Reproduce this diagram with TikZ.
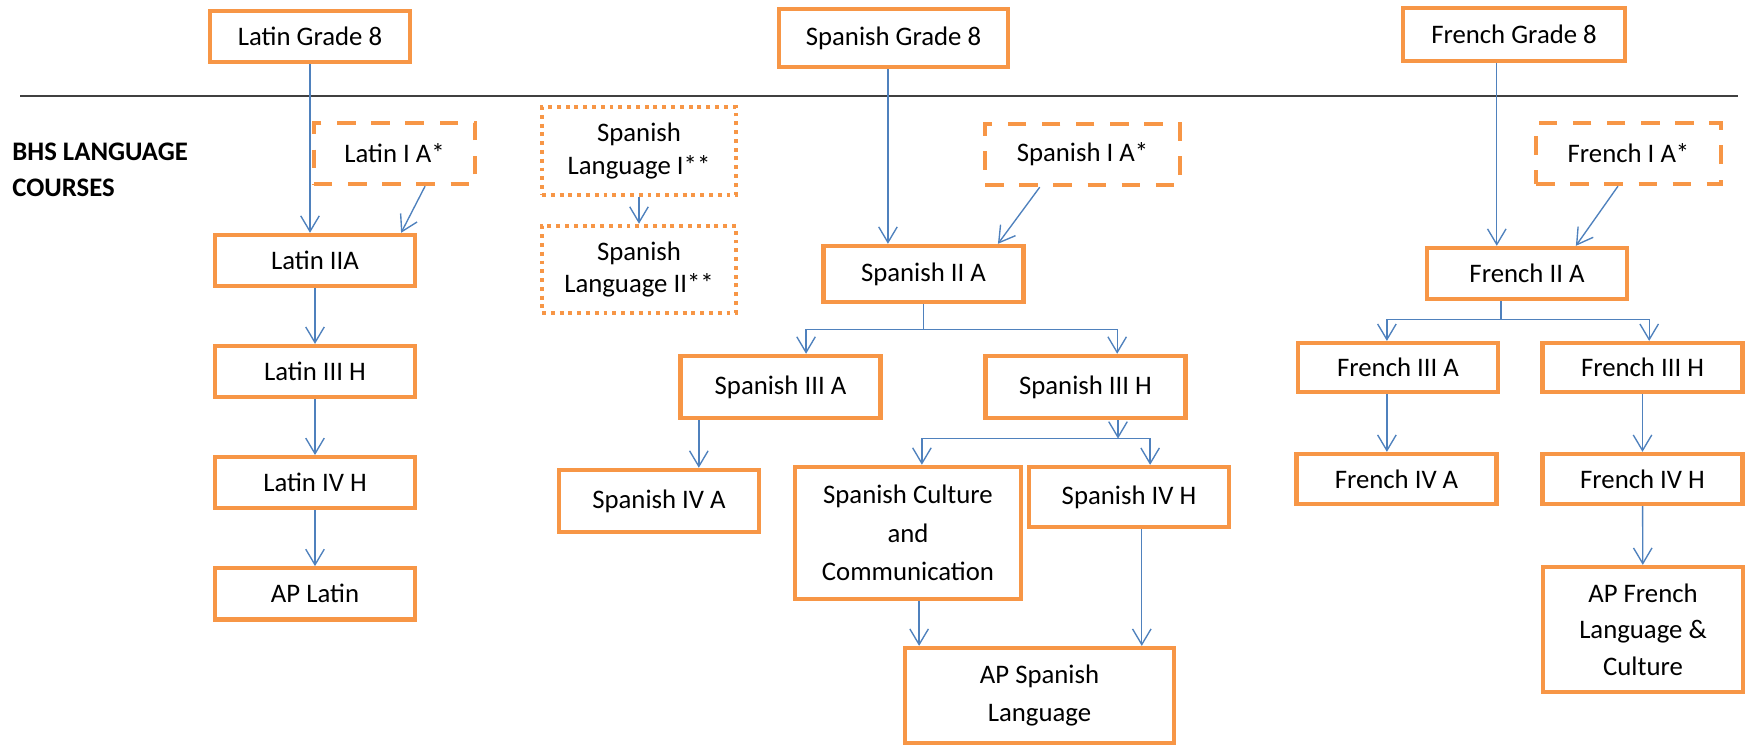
\documentclass[tikz,border=0pt]{standalone}
\usepackage{fontspec}
\setmainfont{Carlito}
\usepackage{tikz}
\usetikzlibrary{arrows.meta,positioning}
\definecolor{bhsorange}{RGB}{247,150,70}
\definecolor{bhsblue}{RGB}{79,129,189}
\definecolor{bhsgray}{RGB}{64,64,64}
\tikzstyle{course} = [rectangle, minimum width=3.6cm, minimum height=0.92cm, text centered, align=center, draw=bhsorange, fill=white, line width=2.2pt, inner sep=0pt]
\tikzstyle{optional} = [course, dash pattern=on 9.5pt off 8pt]
\tikzstyle{heritage} = [course, dash pattern=on 2pt off 2.5pt]
\tikzstyle{arrow} = [line width=0.7pt, -{Straight Barb[length=8pt,width=9.5pt]}, color=bhsblue]

\begin{document}
\begin{tikzpicture}[node distance=2cm, font=\fontsize{13.7pt}{16.5pt}\selectfont]
\useasboundingbox (0,0) rectangle (31.428,-13.41);

% Grade 8 courses
\node (latg8) [course] at (5.58,-0.657) {Latin Grade 8};
\node (spag8) [course, minimum width=4.12cm, minimum height=1.044cm] at (16.083,-0.684) {Spanish Grade 8};
\node (freg8) [course, minimum width=4cm, minimum height=0.954cm] at (27.252,-0.621) {French Grade 8};

% Divider and heading
\draw[line width=1.2pt, bhsgray] (0.36,-1.728) -- (31.284,-1.728);
\node (bhs) [anchor=west, align=left, inner sep=0pt, font=\fontsize{13.7pt}{18.4pt}\selectfont\bfseries] at (0.216,-3.06) {BHS LANGUAGE\\COURSES};

% Latin
\node (lat1) [optional, minimum width=2.9cm, minimum height=1.1cm] at (7.101,-2.763) {Latin I A*};
\node (lat2) [course] at (5.67,-4.689) {Latin IIA};
\node (lat3) [course, below of=lat2] {Latin III H};
\node (lat4) [course, below of=lat3] {Latin IV H};
\node (aplat) [course, below of=lat4] {AP Latin};

% Spanish
\node (spl1) [heritage, minimum width=3.49cm, minimum height=1.58cm, font=\fontsize{13.7pt}{16.4pt}\selectfont] at (11.502,-2.718) {Spanish\\Language I**};
\node (spl2) [heritage, minimum width=3.49cm, minimum height=1.57cm, font=\fontsize{13.7pt}{16.4pt}\selectfont] at (11.502,-4.851) {Spanish\\Language II**};
\node (spa1) [optional, minimum width=3.51cm, minimum height=1.1cm] at (19.485,-2.781) {Spanish I A*};
\node (spa2) [course, minimum height=1.01cm] at (16.623,-4.932) {Spanish II A};
\node (spa3a) [course, minimum height=1.12cm] at (14.049,-6.966) {Spanish III A};
\node (spa3h) [course, minimum height=1.12cm] at (19.539,-6.966) {Spanish III H};
\node (spa4a) [course, minimum height=1.12cm] at (11.862,-9.018) {Spanish IV A};
\node (spcul) [course, minimum width=4.07cm, minimum height=2.38cm, font=\fontsize{13.7pt}{19.7pt}\selectfont] at (16.344,-9.594) {Spanish Culture\\and\\Communication};
\node (spa4h) [course, minimum height=1.08cm] at (20.322,-8.946) {Spanish IV H};
\node (apspa) [course, minimum width=4.84cm, minimum height=1.71cm, font=\fontsize{13.7pt}{19.9pt}\selectfont] at (18.711,-12.519) {AP Spanish\\Language};

% French
\node (fre1) [optional, minimum width=3.33cm, minimum height=1.1cm] at (29.313,-2.763) {French I A*};
\node (fre2) [course] at (27.486,-4.923) {French II A};
\node (fre3a) [course, minimum height=0.88cm] at (25.164,-6.615) {French III A};
\node (fre3h) [course, minimum height=0.88cm] at (29.565,-6.615) {French III H};
\node (fre4a) [course, minimum height=0.9cm] at (25.137,-8.622) {French IV A};
\node (fre4h) [course, minimum height=0.9cm] at (29.565,-8.622) {French IV H};
\node (apfre) [course, minimum height=2.25cm, font=\fontsize{13.7pt}{18.7pt}\selectfont] at (29.574,-11.331) {AP French\\Language \&\\Culture};

% Latin arrows
\draw[arrow] (latg8.south) -- (latg8.south |- lat2.north);
\draw[arrow] ([xshift=0.55cm]lat1.south) -- ([xshift=1.55cm]lat2.north);
\draw[arrow] (lat2) -- (lat3);
\draw[arrow] (lat3) -- (lat4);
\draw[arrow] (lat4) -- (aplat);

% Spanish arrows
\draw[arrow] ([xshift=-0.1cm]spag8.south) -- ([xshift=-0.1cm]spag8.south |- spa2.north);
\draw[arrow] ([xshift=-0.77cm]spa1.south) -- ([xshift=1.34cm]spa2.north);
\draw[arrow] (spl1) -- (spl2);
\draw[arrow] (spa2.south) -- ++(0,-0.45) -| ([xshift=0.46cm]spa3a.north);
\draw[arrow] (spa2.south) -- ++(0,-0.45) -| ([xshift=0.57cm]spa3h.north);
\draw[arrow] ([xshift=-1.47cm]spa3a.south) -- ([xshift=-1.47cm]spa3a.south |- spa4a.north);
\draw[arrow] ([xshift=0.585cm]spa3h.south) -- ++(0,-0.33) coordinate (sphsplit);
\draw[arrow] (sphsplit) -| ([xshift=0.25cm]spcul.north);
\draw[arrow] (sphsplit) -| ([xshift=0.38cm]spa4h.north);
\draw[arrow] ([xshift=0.2cm]spcul.south) -- ([xshift=0.2cm]spcul.south |- apspa.north);
\draw[arrow] ([xshift=0.23cm]spa4h.south) -- ([xshift=0.23cm]spa4h.south |- apspa.north);

% French arrows
\draw[arrow] ([xshift=-0.31cm]freg8.south) -- ([xshift=-0.31cm]freg8.south |- fre2.north);
\draw[arrow] ([xshift=-0.19cm]fre1.south) -- ([xshift=0.88cm]fre2.north);
\draw[arrow] ([xshift=-0.47cm]fre2.south) -- ++(0,-0.33) -| ([xshift=-0.2cm]fre3a.north);
\draw[arrow] ([xshift=-0.47cm]fre2.south) -- ++(0,-0.33) -| ([xshift=0.12cm]fre3h.north);
\draw[arrow] ([xshift=-0.2cm]fre3a.south) -- ([xshift=-0.2cm]fre3a.south |- fre4a.north);
\draw[arrow] (fre3h) -- (fre4h);
\draw[arrow] (fre4h) -- (apfre);
\end{tikzpicture}
\end{document}
